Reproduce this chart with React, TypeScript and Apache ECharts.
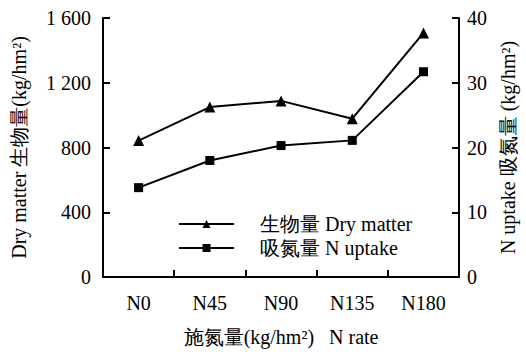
import React, { useEffect, useRef } from "react";
import * as echarts from "echarts";

const categories = ["N0", "N45", "N90", "N135", "N180"];
const dryMatter = [843, 1050, 1088, 978, 1508];
const nUptake = [13.8, 18.0, 20.3, 21.1, 31.7];
const leftTicks = [0, 400, 800, 1200, 1600];
const rightTicks = [0, 10, 20, 30, 40];

const FONT = "Liberation Serif";
const FS = 20;

export default function App() {
  const ref = useRef<HTMLDivElement>(null);
  useEffect(() => {
    if (!ref.current) return;
    const chart = echarts.init(ref.current, null, { renderer: "svg" });
    const axisLine = { show: true, lineStyle: { color: "#000", width: 2 } };
    const axisTick = { show: true, inside: true, length: 7, lineStyle: { color: "#000", width: 2 } };
    chart.setOption({
      animation: false,
      backgroundColor: "#fff",
      textStyle: { fontFamily: FONT, color: "#000" },
      grid: { left: 103, right: 63, top: 18, bottom: 73, containLabel: false },
      legend: {
        orient: "vertical",
        left: 173,
        top: 209,
        itemWidth: 55,
        itemHeight: 10,
        itemGap: 4,
        textStyle: { fontFamily: FONT, fontSize: FS, color: "#000", padding: [0, 0, 0, 21] },
        data: ["生物量 Dry matter", "吸氮量 N uptake"],
      },
      xAxis: {
        type: "category",
        data: categories,
        boundaryGap: true,
        axisLine,
        axisTick,
        axisLabel: { color: "#000", fontSize: FS, fontFamily: FONT, margin: 16 },
        name: "施氮量(kg/hm²)   N rate",
        nameLocation: "middle",
        nameGap: 50,
        nameTextStyle: { color: "#000", fontSize: FS, fontFamily: FONT },
        splitLine: { show: false },
      },
      yAxis: [
        {
          type: "value",
          min: leftTicks[0],
          max: leftTicks[leftTicks.length - 1],
          interval: leftTicks[1] - leftTicks[0],
          axisLine,
          axisTick,
          splitLine: { show: false },
          axisLabel: {
            color: "#000",
            fontSize: FS,
            fontFamily: FONT,
            margin: 12,
            formatter: (v: number) => String(v).replace(/\B(?=(\d{3})+(?!\d))/g, " "),
          },
          name: "Dry matter 生物量(kg/hm²)",
          nameLocation: "middle",
          nameGap: 74,
          nameTextStyle: { color: "#000", fontSize: FS, fontFamily: FONT },
        },
        {
          type: "value",
          min: rightTicks[0],
          max: rightTicks[rightTicks.length - 1],
          interval: rightTicks[1] - rightTicks[0],
          position: "right",
          axisLine,
          axisTick,
          splitLine: { show: false },
          axisLabel: { color: "#000", fontSize: FS, fontFamily: FONT, margin: 8 },
          name: "N uptake 吸氮量 (kg/hm²)",
          nameLocation: "middle",
          nameRotate: 90,
          nameGap: 38,
          nameTextStyle: { color: "#000", fontSize: FS, fontFamily: FONT },
        },
      ],
      series: [
        {
          name: "生物量 Dry matter",
          type: "line",
          data: dryMatter,
          yAxisIndex: 0,
          symbol: "triangle",
          symbolSize: 11,
          lineStyle: { color: "#000", width: 2 },
          itemStyle: { color: "#000" },
        },
        {
          name: "吸氮量 N uptake",
          type: "line",
          data: nUptake,
          yAxisIndex: 1,
          symbol: "rect",
          symbolSize: 9,
          lineStyle: { color: "#000", width: 2 },
          itemStyle: { color: "#000" },
        },
      ],
    });
    return () => chart.dispose();
  }, []);
  return (
    <div
      ref={ref}
      style={{ position: "fixed", left: 0, top: 0, width: 526, height: 352, background: "#fff" }}
    />
  );
}
